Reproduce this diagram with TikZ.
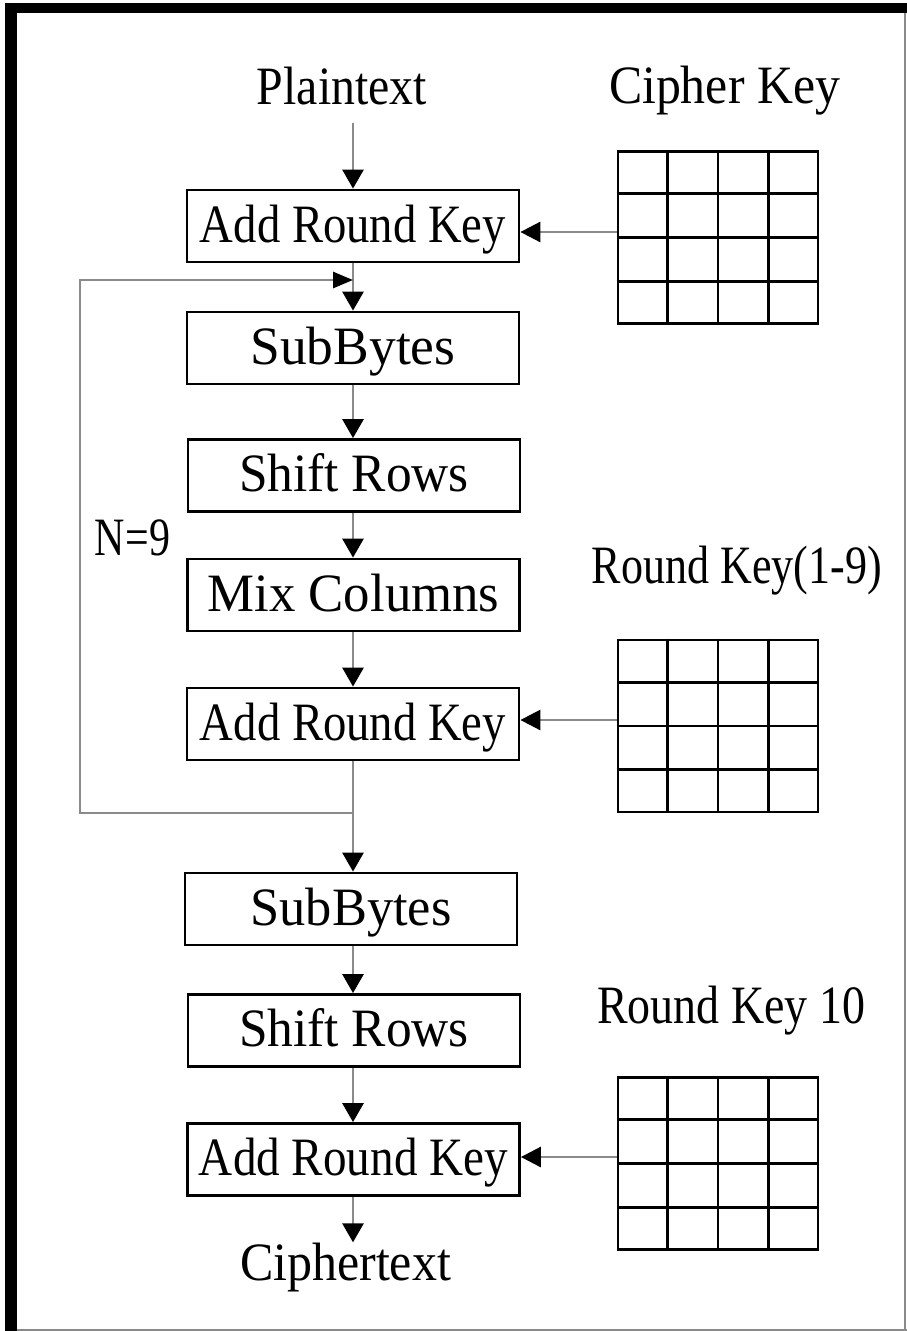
\documentclass[tikz,border=0pt]{standalone}
\usepackage{fontspec}
\setmainfont{Liberation Serif}
\usepackage{graphicx}
\usetikzlibrary{arrows.meta,calc}

% set a text to a fixed width, keeping its natural height
\newcommand{\fitw}[2]{\resizebox{#1pt}{\height}{#2}}

\definecolor{linegray}{HTML}{8A8A8A}

\begin{document}
\begin{tikzpicture}[x=1pt,y=-1pt,
  every node/.style={font=\fontsize{54}{62}\selectfont},
  stage/.style={draw,line width=2.8pt,inner sep=0pt,minimum width=332pt,
    minimum height=72pt,text height=40pt,text depth=8pt},
  txtlbl/.style={inner sep=0pt,anchor=base},
  keygrid/.style={draw,line width=2.8pt,inner sep=0pt,minimum width=200pt,minimum height=172pt},
  gridline/.style={line width=2.8pt},
  conn/.style={draw=linegray,line width=2.8pt},
  flow/.style={conn,-{Triangle[length=19pt,width=21pt,color=black]}},
  keyflow/.style={conn,-{Triangle[length=20pt,width=20pt,color=black]}},
  loopflow/.style={conn,-{Triangle[length=20pt,width=16pt,color=black]}},
]
\useasboundingbox (0,0) rectangle (907,1331);

% frame: heavy left and top edges, light right and bottom edges
\fill (5,3) rectangle (17,1331);
\fill (5,3) rectangle (907,13);
\draw[linegray,line width=2pt] (905,13) -- (905,1331);
\draw[linegray,line width=2pt] (17,1329.5) -- (907,1329.5);

% titles
\node[txtlbl] (pt) at (342,104) {\fitw{170}{Plaintext}};
\node[txtlbl] (ck) at (724.5,103) {\fitw{231}{Cipher Key}};
\node[txtlbl] (n9) at (132.5,555) {\fitw{75}{N=9}};
\node[txtlbl] (rk19) at (737,583) {\fitw{290}{Round Key(1-9)}};
\node[txtlbl] (rk10) at (731,1023) {\fitw{268}{Round Key 10}};
\node[txtlbl] (ct) at (345.5,1280) {\fitw{211}{Ciphertext}};

% round stages
\node[stage] (ark1) at (353,226)   {\fitw{306}{Add Round Key}};
\node[stage] (sb1)  at (353,348)   {\fitw{205}{SubBytes}};
\node[stage] (sr1)  at (354,475.5) {\fitw{230}{Shift Rows}};
\node[stage] (mc)   at (353.5,595) {\fitw{292}{Mix Columns}};
\node[stage] (ark2) at (353,724)   {\fitw{306}{Add Round Key}};
\node[stage] (sb2)  at (351,909)   {\fitw{201}{SubBytes}};
\node[stage] (sr2)  at (354,1030.5){\fitw{230}{Shift Rows}};
\node[stage] (ark3) at (353.5,1159.5){\fitw{309}{Add Round Key}};

% key schedules
\node[keygrid] (k1) at (718,237.5) {};
\node[keygrid] (k2) at (718,726) {};
\node[keygrid] (k3) at (718,1163.5) {};
\foreach \k in {k1,k2,k3}
  \foreach \f in {0.25,0.5,0.75} {
    \draw[gridline] ($(\k.north west)!\f!(\k.north east)$) -- ($(\k.south west)!\f!(\k.south east)$);
    \draw[gridline] ($(\k.north west)!\f!(\k.south west)$) -- ($(\k.north east)!\f!(\k.south east)$);
  }

% main flow
\draw[flow,shorten <=18pt] (ark1.north |- pt.south) -- (ark1.north);
\draw[flow] (ark1.south) -- (sb1.north);
\draw[flow] (sb1.south) -- (sr1.north -| sb1.south);
\draw[flow] (sr1.south -| sb1.south) -- (mc.north -| sb1.south);
\draw[flow] (mc.south -| sb1.south) -- (ark2.north -| sb1.south);
\draw[flow] (ark2.south) -- (sb2.north -| ark2.south);
\draw[flow] (sb2.south -| ark2.south) -- (sr2.north -| ark2.south);
\draw[flow] (sr2.south -| ark2.south) -- (ark3.north -| ark2.south);
\draw[flow] (ark3.south -| ark2.south) -- (ark2.south |- ct.north);

% repeat loop for rounds 1-9
\coordinate (lb) at (80,813);
\coordinate (lt) at (80,280);
\coordinate (jn) at (ark1.south |- lt);
\draw[loopflow] (ark2.south |- lb) -- (lb) -- (lt) -- (jn);

% round keys into the stages
\draw[keyflow] ($(k1.west |- ark1.east)+(0,6)$) -- ($(ark1.east)+(0,6)$);
\draw[keyflow] ($(k2.west |- ark2.east)+(0,-4)$) -- ($(ark2.east)+(0,-4)$);
\draw[keyflow] ($(k3.west |- ark3.east)+(0,-2.5)$) -- ($(ark3.east)+(0,-2.5)$);
\end{tikzpicture}
\end{document}
